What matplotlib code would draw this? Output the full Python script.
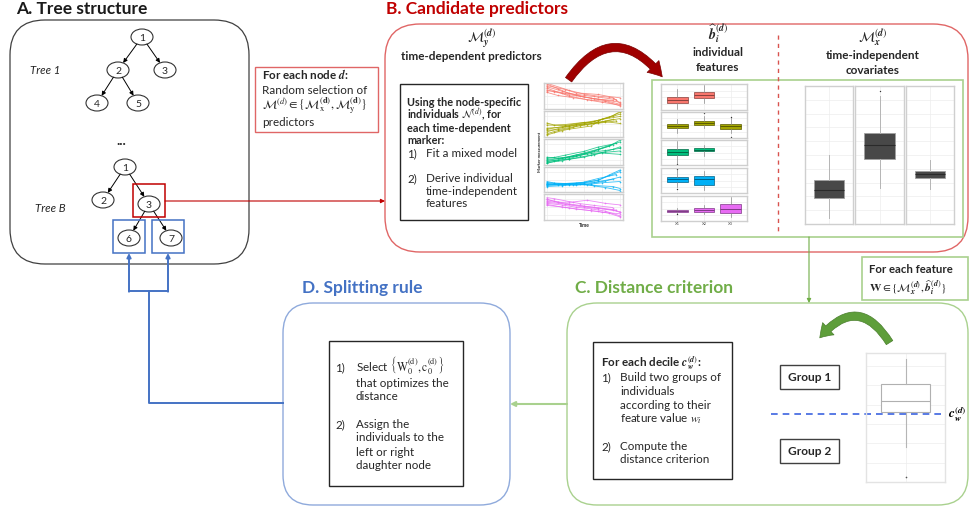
import matplotlib
matplotlib.use("Agg")
import matplotlib.pyplot as plt
import matplotlib.colors as mcolors
from matplotlib.patches import FancyBboxPatch, Rectangle, Ellipse, FancyArrowPatch
from matplotlib.transforms import blended_transform_factory
from matplotlib.mathtext import MathTextParser

plt.rcParams['font.family'] = ['Lato', 'DejaVu Sans']
plt.rcParams['mathtext.fontset'] = 'stix'

# bold italic math if this matplotlib knows \boldsymbol
try:
    MathTextParser('path').parse(r'$\boldsymbol{b}$')
    BS = r'\boldsymbol'
except Exception:
    BS = r'\mathbf'

def bm(s):
    return BS + '{' + s + '}'

# ---------------- data ----------------
tree1_labels = [1, 2, 3, 4, 5]
tree1_edges = [(1, 2), (1, 3), (2, 4), (2, 5)]
treeB_labels = [1, 2, 3, 6, 7]
treeB_edges = [(1, 2), (1, 3), (3, 6), (3, 7)]

marker_colors = ['#F8766D', '#A3A500', '#00BF7D', '#00B0F6', '#E76BF3']

# visit times of 8 individuals (shared by the 5 markers)
visit_times = [
    [0, 1.5, 3, 5, 7, 10],
    [0, 2, 4, 6, 8, 10],
    [0, 1, 3, 4.5, 6.5, 9],
    [0, 2.5, 4, 7, 8.5, 10],
    [0, 1.5, 3.5, 5.5, 8, 10],
    [0, 2, 3, 6, 7.5, 10],
    [0, 1, 2.5, 5, 7, 9.5],
    [0, 3, 5, 6.5, 9, 10],
]
marker1 = [[9.6, 7.8, 6.0, 4.6, 3.8, 2.6], [8.6, 6.9, 5.4, 4.2, 3.2, 1.8],
           [7.4, 6.6, 5.5, 4.9, 3.9, 3.3], [9.0, 7.5, 6.2, 5.6, 4.8, 4.3],
           [6.4, 5.2, 4.4, 3.6, 2.9, 1.2], [8.0, 6.0, 5.0, 3.3, 2.6, 1.5],
           [7.0, 6.8, 6.1, 5.3, 4.6, 3.6], [9.9, 7.2, 5.8, 5.1, 4.4, 2.2]]
marker2 = [[2.0, 3.2, 4.1, 5.0, 6.3, 8.8], [3.4, 3.8, 4.6, 5.2, 6.1, 7.1],
           [1.2, 2.1, 3.3, 4.4, 5.2, 6.8], [4.6, 4.4, 5.1, 6.4, 7.6, 9.5],
           [2.6, 2.8, 3.9, 4.8, 5.9, 5.2], [0.8, 2.4, 3.0, 4.2, 6.8, 7.9],
           [5.4, 4.6, 4.8, 5.6, 5.3, 6.2], [3.0, 4.4, 5.3, 6.0, 8.2, 9.8]]
marker3 = [[1.2, 2.0, 3.1, 4.6, 6.1, 8.9], [2.2, 2.6, 3.9, 4.8, 5.6, 6.4],
           [0.6, 1.4, 2.5, 3.6, 5.4, 7.8], [1.8, 2.8, 3.4, 5.9, 7.2, 9.6],
           [3.0, 2.7, 3.3, 4.2, 4.9, 5.4], [0.9, 1.6, 2.2, 3.8, 4.6, 4.1],
           [2.6, 2.9, 3.8, 5.2, 6.9, 8.3], [1.5, 2.2, 3.0, 4.0, 6.0, 7.0]]
marker4 = [[3.2, 3.0, 3.3, 3.6, 4.8, 8.2], [2.6, 2.8, 2.7, 3.4, 4.4, 6.0],
           [3.8, 3.5, 3.1, 3.3, 3.9, 5.2], [2.9, 3.1, 3.5, 4.6, 6.8, 8.8],
           [3.4, 3.2, 3.0, 2.8, 1.8, 0.6], [2.2, 2.5, 2.9, 3.1, 3.7, 4.2],
           [4.2, 3.6, 3.4, 3.9, 5.4, 7.0], [3.0, 3.3, 3.2, 2.6, 2.2, 1.4]]
marker5 = [[7.8, 7.0, 6.2, 5.4, 4.6, 3.2], [6.4, 5.8, 4.9, 4.3, 3.4, 1.6],
           [8.6, 8.2, 7.1, 6.3, 5.6, 4.8], [5.6, 4.9, 4.2, 3.3, 2.6, 1.2],
           [7.2, 6.8, 6.9, 7.6, 6.4, 5.8], [6.0, 5.0, 4.6, 3.6, 3.0, 2.4],
           [8.0, 7.2, 6.0, 5.0, 4.4, 3.8], [6.8, 6.0, 5.3, 4.9, 4.0, 2.9]]
marker_values = [marker1, marker2, marker3, marker4, marker5]

# individual features: (lo, q1, med, q3, hi, fliers) per X1..X3
feature_names = ['X1', 'X2', 'X3']
feat1 = [(0.4, 2.7, 3.85, 5.0, 8.1, []), (2.7, 4.6, 5.8, 6.9, 9.6, [])]
feat2 = [(1.9, 3.8, 4.6, 5.4, 7.3, []), (3.8, 5.0, 5.8, 6.5, 8.5, [9.6]),
         (1.9, 3.5, 4.6, 5.4, 7.7, [0.4, 8.1])]
feat3 = [(0.8, 4.0, 5.2, 6.4, 9.6, [0.3]), (3.6, 5.6, 6.0, 6.8, 8.0, [])]
feat4 = [(2.4, 4.4, 5.6, 6.4, 9.2, [1.6, 9.8]), (1.2, 3.2, 5.6, 6.8, 8.8, [])]
feat5 = [(3.2, 3.6, 4.0, 4.4, 5.2, [2.8]), (2.8, 3.6, 4.4, 5.2, 6.4, []),
         (1.6, 3.2, 4.8, 6.8, 9.6, [])]
feature_stats = [feat1, feat2, feat3, feat4, feat5]

# time-independent covariates
covariate_stats = [(0.43, 1.88, 2.46, 3.19, 5.0, []),
                   (2.61, 4.71, 5.72, 6.59, 9.28, [9.64]),
                   (2.54, 3.33, 3.62, 3.84, 4.64, [])]

# feature W in panel C and its decile threshold
w_stats = (2.71, 5.43, 6.28, 7.60, 9.53, [0.39])
w_cut = 5.27

# ---------------- canvas ----------------
W, H = 969, 508
fig = plt.figure(figsize=(W / 100, H / 100), dpi=100)
ax = fig.add_axes([0, 0, 1, 1])
ax.set_xlim(0, W)
ax.set_ylim(H, 0)
ax.axis('off')

FS = 8.4    # body text
FB = 8.0    # bold body text

def inset(x0, y0, x1, y1):
    return fig.add_axes([x0 / W, 1 - y1 / H, (x1 - x0) / W, (y1 - y0) / H])

def rbox(x0, y0, x1, y1, color, r=30, lw=1.0):
    ax.add_patch(FancyBboxPatch((x0, y0), x1 - x0, y1 - y0,
                                boxstyle='round,pad=0,rounding_size=%d' % r,
                                fc='white', ec=color, lw=lw))

def sbox(x0, y0, x1, y1, color='#262626', lw=1.0):
    ax.add_patch(Rectangle((x0, y0), x1 - x0, y1 - y0, fc='white', ec=color, lw=lw))

def txt(x, y, s, **kw):
    # y is the middle of the capitals; text sits on its baseline so math doesn't shift it
    kw.setdefault('fontsize', FB if kw.get('weight') == 'bold' else FS)
    kw.setdefault('color', '#262626')
    if 'va' not in kw and kw.get('rotation', 0) == 0:
        kw['va'] = 'baseline'
        y = y + 0.36 * kw['fontsize'] * 100 / 72
    kw.setdefault('va', 'center')
    ax.text(x, y, s, **kw)

def facet(a, ymax=10):
    a.set_facecolor('white')
    for sp in a.spines.values():
        sp.set_color('#CFCFCF')
        sp.set_linewidth(1.0)
    a.grid(True, color='#EDEDED', lw=0.5)
    a.set_axisbelow(True)
    a.tick_params(length=0, labelbottom=False, labelleft=False)
    a.set_ylim(0, ymax)

def mkstats(t):
    lo, q1, med, q3, hi, fl = t
    return dict(whislo=lo, q1=q1, med=med, q3=q3, whishi=hi, fliers=fl)

# ---------------- A. tree structure ----------------
txt(16, 8, 'A. Tree structure', fontsize=12.5, weight='bold', color='#1a1a1a')
rbox(10, 20, 249, 264, '#404040', r=35, lw=0.9)

tree1_pos = dict(zip(tree1_labels, [(142, 37), (118, 70), (165, 70), (97, 103), (138, 103)]))
treeB_pos = dict(zip(treeB_labels, [(125, 167), (103, 200), (149, 204), (129, 238), (171, 238)]))
ew, eh = 22, 16

def draw_tree(pos, edges):
    for lab, (x, y) in pos.items():
        ax.add_patch(Ellipse((x, y), ew, eh, fc='white', ec='#333333', lw=0.8, zorder=3))
        txt(x, y, str(lab), ha='center', fontsize=7.5, zorder=4)
    for a, b in edges:
        (x1, y1), (x2, y2) = pos[a], pos[b]
        dx, dy = x2 - x1, y2 - y1
        t = 1 / ((dx / (ew / 2)) ** 2 + (dy / (eh / 2)) ** 2) ** 0.5
        ax.annotate('', xy=(x2 - dx * t, y2 - dy * t), xytext=(x1 + dx * t, y1 + dy * t),
                    arrowprops=dict(arrowstyle='-|>', lw=0.7, color='black',
                                    mutation_scale=6, shrinkA=0, shrinkB=0))

draw_tree(tree1_pos, tree1_edges)
draw_tree(treeB_pos, treeB_edges)
txt(30, 70, 'Tree 1', style='italic', fontsize=8.2)
txt(35, 208, 'Tree B', style='italic', fontsize=8.2)
txt(121, 140, '...', ha='center', fontsize=10, weight='bold')

ax.add_patch(Rectangle((133, 184), 32, 33, fc='none', ec='#C00000', lw=1.1, zorder=5))
ax.add_patch(Rectangle((113, 220), 32, 33, fc='none', ec='#4472C4', lw=1.1, zorder=5))
ax.add_patch(Rectangle((152, 220), 32, 33, fc='none', ec='#4472C4', lw=1.1, zorder=5))

# node box
sbox(255, 67, 378, 132, color='#E06666', lw=1.0)
txt(262, 75, 'For each node ' + r'$' + bm('d') + '$:', weight='bold', fontsize=8.4)
txt(262, 90, 'Random selection of')
txt(262, 105, r'$\mathcal{M}^{(d)} \in \{\mathcal{M}_{\mathrm{x}}^{(\mathbf{d})},'
              r'\mathcal{M}_{\mathrm{y}}^{(\mathbf{d})}\}$', fontsize=8.8)
txt(262, 122, 'predictors')

# ---------------- B. candidate predictors ----------------
txt(386, 8, 'B. Candidate predictors', fontsize=12.5, weight='bold', color='#C00000')
rbox(385, 24, 968, 252, '#E06666', r=35, lw=1.0)

txt(482, 37, r'$' + bm(r'\mathcal{M}') + '_{' + bm('y') + '}^{(' + bm('d') + ')}$',
    ha='center', fontsize=10)
txt(471, 56, 'time-dependent predictors', ha='center', weight='bold', fontsize=8.5)

sbox(400, 84, 528, 220)
txt(407, 102, 'Using the node-specific', weight='bold', fontsize=7.8)
txt(407, 115, 'individuals ' + r'$\mathcal{N}^{(d)}$' + ', for', weight='bold', fontsize=7.8)
txt(407, 128, 'each time-dependent', weight='bold', fontsize=7.8)
txt(407, 140, 'marker:', weight='bold', fontsize=7.8)
txt(407, 153, '1)')
txt(426, 153, 'Fit a mixed model')
txt(407, 178, '2)')
txt(426, 178, 'Derive individual')
txt(426, 191, 'time-independent')
txt(426, 203, 'features')

txt(718, 34, r'$\widehat{' + bm('b') + '}_{' + bm('i') + '}^{(' + bm('d') + ')}$',
    ha='center', fontsize=10)
txt(718, 52, 'individual', ha='center', weight='bold', fontsize=8.5)
txt(718, 67, 'features', ha='center', weight='bold', fontsize=8.5)
ax.plot([778, 778], [35, 231], color='#D9534F', lw=1.0, ls=(0, (3, 3)))
txt(873, 37, r'$' + bm(r'\mathcal{M}') + '_{' + bm('x') + '}^{(' + bm('d') + ')}$',
    ha='center', fontsize=10)
txt(873, 55, 'time-independent', ha='center', weight='bold', fontsize=8.5)
txt(873, 70, 'covariates', ha='center', weight='bold', fontsize=8.5)

sbox(652, 80, 963, 237, color='#A9D18E', lw=1.2)

# spaghetti plots
sp_rows = [(83, 109), (111, 137), (139, 165), (167, 192), (194, 220)]
for k, (y0, y1) in enumerate(sp_rows):
    a = inset(544, y0, 623, y1)
    facet(a)
    a.set_xlim(-0.4, 10.4)
    a.set_xticks([0, 2.5, 5, 7.5, 10])
    a.set_yticks([2, 5, 8])
    for t, v in zip(visit_times, marker_values[k]):
        a.plot(t, v, color=marker_colors[k], lw=0.6, alpha=0.8,
               marker='o', ms=1.2, mew=0)
txt(584, 225, 'Time', ha='center', fontsize=3.5, weight='bold')
txt(540, 152, 'Marker measurement', ha='center', fontsize=3, rotation=90, weight='bold')

# individual features boxplots
fb_rows = [(84, 110), (112, 138), (140, 165), (168, 193), (196, 221)]
for k, (y0, y1) in enumerate(fb_rows):
    a = inset(661, y0, 747, y1)
    facet(a)
    col = marker_colors[k]
    dark = tuple(c * 0.55 for c in mcolors.to_rgb(col))
    st = [mkstats(s) for s in feature_stats[k]]
    a.bxp(st, positions=list(range(1, len(st) + 1)), widths=0.78, patch_artist=True,
          showcaps=False,
          boxprops=dict(facecolor=col, edgecolor=dark, lw=0.5),
          medianprops=dict(color=dark, lw=0.7),
          whiskerprops=dict(color='#8a8a8a', lw=0.5),
          flierprops=dict(marker='o', ms=1.0, mfc='#333333', mec='none'))
    a.set_xlim(0.4, 3.6)
    a.set_xticks([1, 2, 3])
    a.set_yticks([2.5, 5, 7.5])
    if k == 4:
        a.tick_params(labelbottom=True, labelsize=3, pad=1, colors='#444444')
        a.set_xticklabels(feature_names)

# time-independent covariates boxplots
cov_cols = [(805, 853), (855, 904), (906, 954)]
for k, (x0, x1) in enumerate(cov_cols):
    a = inset(x0, 86, x1, 224)
    facet(a)
    a.bxp([mkstats(covariate_stats[k])], positions=[1], widths=0.75, patch_artist=True,
          showcaps=False,
          boxprops=dict(facecolor='#484848', edgecolor='#A0A0A0', lw=0.6),
          medianprops=dict(color='#2a2a2a', lw=0.8),
          whiskerprops=dict(color='#B5B5B5', lw=0.7),
          flierprops=dict(marker='o', ms=1.0, mfc='#333333', mec='none'))
    a.set_xlim(0.4, 1.6)
    a.set_xticks([1])
    a.set_yticks([1, 2, 3, 4, 5, 6, 7, 8, 9])

# red curved arrow
ax.add_patch(FancyArrowPatch((567, 82), (664, 79), connectionstyle='arc3,rad=-0.68',
                             arrowstyle='simple,head_width=12,head_length=10,tail_width=5.5',
                             fc='#A00000', ec='#7a0000', lw=0.5, zorder=6))

# link from node 3 to panel B
ax.annotate('', xy=(385, 201), xytext=(165, 201),
            arrowprops=dict(arrowstyle='-|>', color='#C00000', lw=0.8,
                            mutation_scale=6, shrinkA=0, shrinkB=0))

# ---------------- C. distance criterion ----------------
txt(575, 287, 'C. Distance criterion', fontsize=12.5, weight='bold', color='#70AD47')
rbox(567, 303, 968, 505, '#A9D18E', r=30, lw=1.0)

sbox(862, 257, 968, 300, color='#A9D18E', lw=1.2)
txt(869, 268.5, 'For each feature', weight='bold', fontsize=8.2)
txt(869, 288, r'$\mathbf{W} \in \{' + bm(r'\mathcal{M}') + '_{' + bm('x') + '}^{(' + bm('d') +
    r')}, \widehat{' + bm('b') + '}_{' + bm('i') + '}^{(' + bm('d') + r')}\}$', fontsize=8.2)

ax.annotate('', xy=(809, 303), xytext=(809, 237),
            arrowprops=dict(arrowstyle='-|>', color='#70AD47', lw=0.8,
                            mutation_scale=6, shrinkA=0, shrinkB=0))

sbox(593, 342, 732, 479)
txt(601, 363, 'For each decile ' + r'$' + bm('c') + '_{' + bm('w') + '}^{(' + bm('d') + ')}$:',
    weight='bold', fontsize=8.4)
txt(601, 377, '1)')
txt(620, 377, 'Build two groups of')
txt(620, 391, 'individuals')
txt(620, 405, 'according to their')
txt(620, 418, 'feature value ' + r'$w_i$')
txt(601, 446, '2)')
txt(620, 446, 'Compute the')
txt(620, 459, 'distance criterion')

sbox(780, 365, 839, 389, color='#404040')
txt(809.5, 377, 'Group 1', ha='center', weight='bold', fontsize=8.6)
sbox(780, 439, 839, 463, color='#404040')
txt(809.5, 451, 'Group 2', ha='center', weight='bold', fontsize=8.6)

a = inset(866, 353, 945, 482)
facet(a)
for sp in a.spines.values():
    sp.set_color('#E3E3E3')
a.bxp([mkstats(w_stats)], positions=[1], widths=0.75, patch_artist=True, showcaps=False,
      boxprops=dict(facecolor='white', edgecolor='#B0B0B0', lw=0.8),
      medianprops=dict(color='#B0B0B0', lw=0.8),
      whiskerprops=dict(color='#B5B5B5', lw=0.8),
      flierprops=dict(marker='o', ms=1.2, mfc='#555555', mec='none'))
a.set_xlim(0.4, 1.6)
a.set_xticks([1])
a.set_yticks([1.5, 3, 4.5, 6, 7.5, 9])
tr = blended_transform_factory(a.transAxes, a.transData)
a.plot([-1.2, 1.01], [w_cut, w_cut], transform=tr, clip_on=False,
       color='#3C64E0', lw=1.2, ls=(0, (4, 3)))
a.text(1.16, w_cut, r'$' + bm('c') + '_{' + bm('w') + '}^{(' + bm('d') + ')}$',
       transform=tr, ha='center', va='center', fontsize=9.5, clip_on=False)

# green curved arrow
ax.add_patch(FancyArrowPatch((891, 345), (818, 340), connectionstyle='arc3,rad=0.72',
                             arrowstyle='simple,head_width=12,head_length=9,tail_width=5.5',
                             fc='#5E9E3A', ec='#4a7f2d', lw=0.5, zorder=6))

ax.annotate('', xy=(510, 404), xytext=(567, 404),
            arrowprops=dict(arrowstyle='-|>', color='#A9D18E', lw=1.5,
                            mutation_scale=7, shrinkA=0, shrinkB=0))

# ---------------- D. splitting rule ----------------
txt(302, 287, 'D. Splitting rule', fontsize=12.5, weight='bold', color='#4472C4')
rbox(283, 303, 510, 505, '#8FAADC', r=30, lw=1.0)

sbox(329, 341, 463, 486)
txt(335, 367, '1)')
txt(356, 367, 'Select ' + r'$\left\{\mathrm{W}_0^{(\mathrm{d})},\mathrm{c}_0^{(\mathrm{d})}\right\}$')
txt(356, 383, 'that optimizes the')
txt(356, 396, 'distance')
txt(335, 424, '2)')
txt(356, 424, 'Assign the')
txt(356, 437, 'individuals to the')
txt(356, 452, 'left or right')
txt(356, 465, 'daughter node')

# blue feedback path to the daughter nodes
ax.plot([283, 149, 149], [403, 403, 291], color='#4472C4', lw=1.4)
ax.plot([129, 168], [291, 291], color='#4472C4', lw=1.4)
for xx in (129, 168):
    ax.annotate('', xy=(xx, 253), xytext=(xx, 291.7),
                arrowprops=dict(arrowstyle='-|>', color='#4472C4', lw=1.4,
                                mutation_scale=6, shrinkA=0, shrinkB=0))

fig.savefig('out.png', dpi=100)
